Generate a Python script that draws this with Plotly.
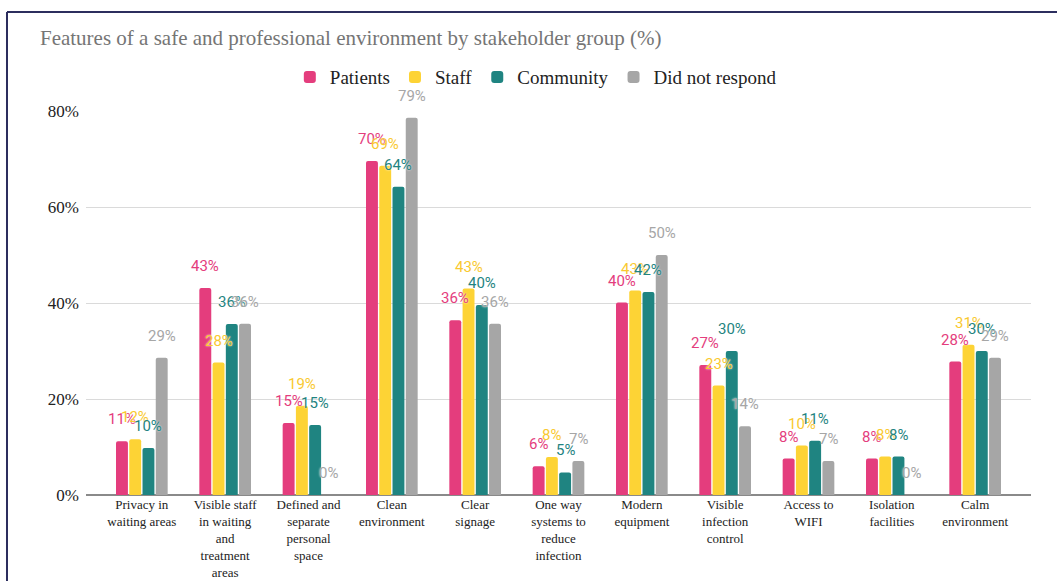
import plotly.graph_objects as go

categories = [
    "Privacy in<br>waiting areas",
    "Visible staff<br>in waiting<br>and<br>treatment<br>areas",
    "Defined and<br>separate<br>personal<br>space",
    "Clean<br>environment",
    "Clear<br>signage",
    "One way<br>systems to<br>reduce<br>infection",
    "Modern<br>equipment",
    "Visible<br>infection<br>control",
    "Access to<br>WIFI",
    "Isolation<br>facilities",
    "Calm<br>environment",
]

patients = [11.2, 43.1, 15.0, 69.6, 36.4, 6.0, 40.1, 27.1, 7.6, 7.6, 27.8]
staff = [11.6, 27.6, 18.6, 68.6, 43.0, 7.9, 42.6, 22.8, 10.3, 8.0, 31.3]
community = [9.8, 35.6, 14.6, 64.2, 39.6, 4.7, 42.3, 30.0, 11.3, 8.0, 30.0]
did_not_respond = [28.6, 35.7, 0.0, 78.6, 35.7, 7.1, 50.0, 14.3, 7.1, 0.0, 28.6]

series_names = ["Patients", "Staff", "Community", "Did not respond"]
series_values = [patients, staff, community, did_not_respond]
bar_colors = ["#E43D7D", "#FDD335", "#1F8481", "#A6A6A6"]
label_colors = ["#E43D7D", "#F9C930", "#1F8481", "#A6A6A6"]

y_ticks = [0, 20, 40, 60, 80]
y_tick_labels = ["0%", "20%", "40%", "60%", "80%"]

x_idx = list(range(len(categories)))

fig = go.Figure()
for name, vals, col in zip(series_names, series_values, bar_colors):
    fig.add_trace(go.Bar(name=name, x=x_idx, y=vals, marker=dict(color=col, line=dict(width=0))))

# data labels above each bar
slot_px = 13.3
offsets = [-1.5 * slot_px, -0.5 * slot_px, 0.5 * slot_px, 1.5 * slot_px]
for vals, col, off in zip(series_values, label_colors, offsets):
    for i, v in enumerate(vals):
        fig.add_annotation(
            x=i, y=v, xref="x", yref="y", xshift=off, yshift=22,
            text=f"{round(v):d}%", showarrow=False,
            font=dict(family="Roboto", size=15, color=col, shadow="0px 0px 2px white"),
            xanchor="center", yanchor="middle",
        )

# chart frame (top and left border)
frame = "#2C2E5E"
fig.add_shape(type="line", xref="paper", yref="paper", x0=-0.0836, x1=1.1, y0=1.258, y1=1.258,
              line=dict(color=frame, width=2))
fig.add_shape(type="line", xref="paper", yref="paper", x0=-0.0836, x1=-0.0836, y0=1.258, y1=-0.3,
              line=dict(color=frame, width=2))

fig.update_layout(
    width=1057, height=581,
    margin=dict(l=86, r=26, t=111, b=86, autoexpand=False),
    paper_bgcolor="white", plot_bgcolor="white",
    barmode="group", bargap=0.364, bargroupgap=0.1, barcornerradius=2,
    title=dict(
        text="Features of a safe and professional environment by stakeholder group (%)",
        font=dict(family="Liberation Serif", size=21, color="#757575"),
        xref="container", yref="container", x=0.0378, xanchor="left", y=1 - 38 / 581, yanchor="middle",
    ),
    legend=dict(
        orientation="h", x=0.476, xanchor="center", y=1.088, yanchor="middle",
        font=dict(family="Liberation Serif", size=19, color="#222222"),
        itemclick=False, traceorder="normal",
    ),
    xaxis=dict(
        tickmode="array", tickvals=x_idx, ticktext=categories,
        range=[-0.67, len(categories) - 1 + 0.67],
        tickfont=dict(family="Liberation Serif", size=13, color="#222222"),
        showgrid=False, showline=False, zeroline=False, ticks="", tickangle=0,
        fixedrange=True, automargin=False,
    ),
    yaxis=dict(
        range=[0, 80], tickmode="array", tickvals=y_ticks, ticktext=y_tick_labels,
        tickfont=dict(family="Liberation Serif", size=17, color="#222222"),
        showgrid=True, gridcolor="#DADADA", gridwidth=1,
        zeroline=True, zerolinecolor="#8A8A8A", zerolinewidth=1.5,
        showline=False, ticks="", ticklabelstandoff=6, fixedrange=True, automargin=False,
    ),
)

fig.write_html("out.html", config={"displayModeBar": False},
               post_script="document.body.style.margin='0px';")
